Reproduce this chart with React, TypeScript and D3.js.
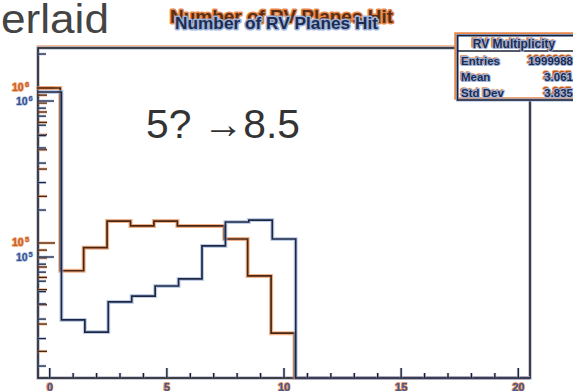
import React from "react";
import * as d3 from "d3";

const bins = [0, 1, 2, 3, 4, 5, 6, 7, 8, 9, 10, 11, 12, 13, 14, 15, 16, 17, 18, 19, 20];
const orangeCounts = [1000000, 66200, 93300, 138600, 128800, 138600, 128800, 128800, 106100, 61300, 26200, 0, 0, 0, 0, 0, 0, 0, 0, 0, 0];
const blueCounts = [1142000, 39500, 33000, 51500, 56200, 65200, 72300, 117700, 167600, 172500, 130400, 0, 0, 0, 0, 0, 0, 0, 0, 0, 0];
const xTickLabels = ["0", "5", "10", "15", "20"];
const titleText = "Number of RV Planes Hit";
const statsTitle = "RV Multiplicity";
const statsLabels = ["Entries", "Mean", "Std Dev"];
const blueStats = ["1999988", "3.061", "3.835"];
const orangeStats = ["1999988", "2.585", "3.835"];

const W = 573, H = 391;
const L = 38, R = 530, T = 48, B = 378;

const DARK_O = "#4a2512", HALO_O = "#e8874a";
const DARK_B = "#1d2741", HALO_B = "#9db3dc";
const FONT = "'Liberation Sans', Arial, Helvetica, sans-serif";

export default function App() {
  const x = d3.scaleLinear().domain([-0.5, 20.5]).range([L, R]);
  const yO = d3.scaleLog().domain([1e5, 1e6]).range([243, 88]);
  const yB = d3.scaleLog().domain([1e5, 1e6]).range([257, 101]);

  const histPath = (counts: number[], y: any) => {
    const pts: [number, number][] = [];
    counts.forEach((v, i) => {
      const yy = v > 0 ? Math.max(T, Math.min(B, y(v))) : B;
      pts.push([x(bins[i] - 0.5), yy]);
    });
    pts.push([x(bins[bins.length - 1] + 0.5), pts[pts.length - 1][1]]);
    return d3.line().curve(d3.curveStepAfter)(pts) as string;
  };

  const logTicks = (y: any) => {
    const out: { y: number; major: boolean; exp: number }[] = [];
    for (let e = 3; e <= 7; e++) {
      for (let m = 1; m <= 9; m++) {
        const v = m * Math.pow(10, e);
        const yy = y(v);
        if (yy >= T + 2 && yy <= B - 1) out.push({ y: yy, major: m === 1, exp: e });
      }
    }
    return out;
  };

  const ticksO = logTicks(yO);
  const ticksB = logTicks(yB);

  const haloText = (props: any, txt: any, fill: string, halo: string, sw = 2.2) => (
    <text {...props} fill={fill} stroke={halo} strokeWidth={sw} paintOrder="stroke" strokeLinejoin="round">{txt}</text>
  );

  return (
    <svg width={W} height={H} style={{ position: "fixed", left: 0, top: 0, background: "#fff" }} fontFamily={FONT}>
      {/* slide text */}
      <text x={1} y={33} fontSize={40} fill="#444" textLength={108} lengthAdjust="spacingAndGlyphs">erlaid</text>

      {/* titles */}
      {haloText({ x: 170, y: 23, fontSize: 19, fontWeight: "bold", textLength: 223, lengthAdjust: "spacingAndGlyphs" }, titleText, "#5a2e14", HALO_O, 3)}
      {haloText({ x: 175, y: 29, fontSize: 17, fontWeight: "bold", textLength: 203, lengthAdjust: "spacingAndGlyphs" }, titleText, "#1f2c4d", HALO_B, 3)}

      {/* frame */}
      <rect x={L} y={T - 1.5} width={R - L} height={B - T + 1.5} fill="none" stroke={HALO_O} strokeWidth={2.5} opacity={0.7} />
      <rect x={L} y={T} width={R - L} height={B - T} fill="none" stroke={HALO_B} strokeWidth={3.5} opacity={0.7} />
      <rect x={L} y={T} width={R - L} height={B - T} fill="none" stroke="#222" strokeWidth={1.6} />

      {/* histograms */}
      <path d={histPath(orangeCounts, yO)} fill="none" stroke={HALO_O} strokeWidth={4} opacity={0.65} transform="translate(-1.2,0)" />
      <path d={histPath(orangeCounts, yO)} fill="none" stroke={DARK_O} strokeWidth={1.7} transform="translate(-1.2,0)" />
      <path d={histPath(blueCounts, yB)} fill="none" stroke={HALO_B} strokeWidth={4} opacity={0.65} />
      <path d={histPath(blueCounts, yB)} fill="none" stroke={DARK_B} strokeWidth={1.7} />

      {/* y ticks */}
      {ticksO.map((t, i) => (
        <g key={"to" + i}>
          <line x1={L} x2={L + (t.major ? 17 : 9)} y1={t.y} y2={t.y} stroke={HALO_O} strokeWidth={3} opacity={0.5} />
          <line x1={L} x2={L + (t.major ? 17 : 9)} y1={t.y} y2={t.y} stroke={DARK_O} strokeWidth={1.3} />
        </g>
      ))}
      {ticksB.map((t, i) => (
        <g key={"tb" + i}>
          <line x1={L} x2={L + (t.major ? 16 : 8)} y1={t.y} y2={t.y} stroke={HALO_B} strokeWidth={3} opacity={0.5} />
          <line x1={L} x2={L + (t.major ? 16 : 8)} y1={t.y} y2={t.y} stroke={DARK_B} strokeWidth={1.3} />
        </g>
      ))}
      {ticksO.filter(t => t.major).map((t, i) => (
        <g key={"lo" + i}>
          {haloText({ x: 12, y: t.y + 3, fontSize: 10.5, fontWeight: "bold" }, "10", "#c8622a", "#f0a878", 1.5)}
          {haloText({ x: 25, y: t.y - 1, fontSize: 7.5, fontWeight: "bold" }, String(t.exp), "#c8622a", "#f0a878", 1.2)}
        </g>
      ))}
      {ticksB.filter(t => t.major).map((t, i) => (
        <g key={"lb" + i}>
          {haloText({ x: 16, y: t.y + 4, fontSize: 10.5, fontWeight: "bold" }, "10", "#34508c", "#b8c8e8", 1.5)}
          {haloText({ x: 28.5, y: t.y, fontSize: 7.5, fontWeight: "bold" }, String(t.exp), "#34508c", "#b8c8e8", 1.2)}
        </g>
      ))}

      {/* x ticks */}
      {bins.map((b) => {
        const major = b % 5 === 0;
        return (
          <g key={"xt" + b}>
            <line x1={x(b)} x2={x(b)} y1={B} y2={B - (major ? 10 : 5)} stroke={HALO_B} strokeWidth={3} opacity={0.5} />
            <line x1={x(b)} x2={x(b)} y1={B} y2={B - (major ? 10 : 5)} stroke="#1e1e2a" strokeWidth={1.4} />
          </g>
        );
      })}
      {xTickLabels.map((lab) => (
        <g key={"xl" + lab}>
          {haloText({ x: x(+lab), y: 391, fontSize: 11, fontWeight: "bold", textAnchor: "middle" }, lab, "#3a5a9c", HALO_O, 1.6)}
        </g>
      ))}

      {/* stats boxes */}
      <rect x={455.5} y={33.5} width={125} height={65} fill="#fff" stroke={HALO_O} strokeWidth={2.5} />
      {haloText({ x: 512.5, y: 46.5, fontSize: 12, fontWeight: "bold", textAnchor: "middle" }, statsTitle, "#b35a26", HALO_O, 1.5)}
      {statsLabels.map((s, i) => (
        <g key={"so" + i}>
          {haloText({ x: 460, y: 63.5 + i * 16, fontSize: 11.5, fontWeight: "bold" }, s, "#b35a26", HALO_O, 1.5)}
          {haloText({ x: 571.5, y: 63 + i * 16, fontSize: 11.5, fontWeight: "bold", textAnchor: "end" }, orangeStats[i], "#b35a26", HALO_O, 1.5)}
        </g>
      ))}
      <rect x={457.5} y={35.5} width={125} height={64.5} fill="none" stroke={HALO_B} strokeWidth={3} />
      <rect x={457.5} y={35.5} width={125} height={64.5} fill="none" stroke="#1d2233" strokeWidth={1.5} />
      <line x1={457.5} x2={580} y1={51} y2={51} stroke="#1d2233" strokeWidth={1.3} />
      {haloText({ x: 514, y: 48, fontSize: 12, fontWeight: "bold", textAnchor: "middle" }, statsTitle, "#1f2c4d", HALO_B, 2)}
      {statsLabels.map((s, i) => (
        <g key={"sb" + i}>
          {haloText({ x: 461, y: 65 + i * 16, fontSize: 11.5, fontWeight: "bold" }, s, "#1f2c4d", HALO_B, 2)}
          {haloText({ x: 573, y: 65 + i * 16, fontSize: 11.5, fontWeight: "bold", textAnchor: "end" }, blueStats[i], "#1f2c4d", HALO_B, 2)}
        </g>
      ))}

      {/* annotation */}
      <text x={146} y={138} fontSize={40} fill="#333" textLength={154} lengthAdjust="spacingAndGlyphs">5? →8.5</text>
    </svg>
  );
}
